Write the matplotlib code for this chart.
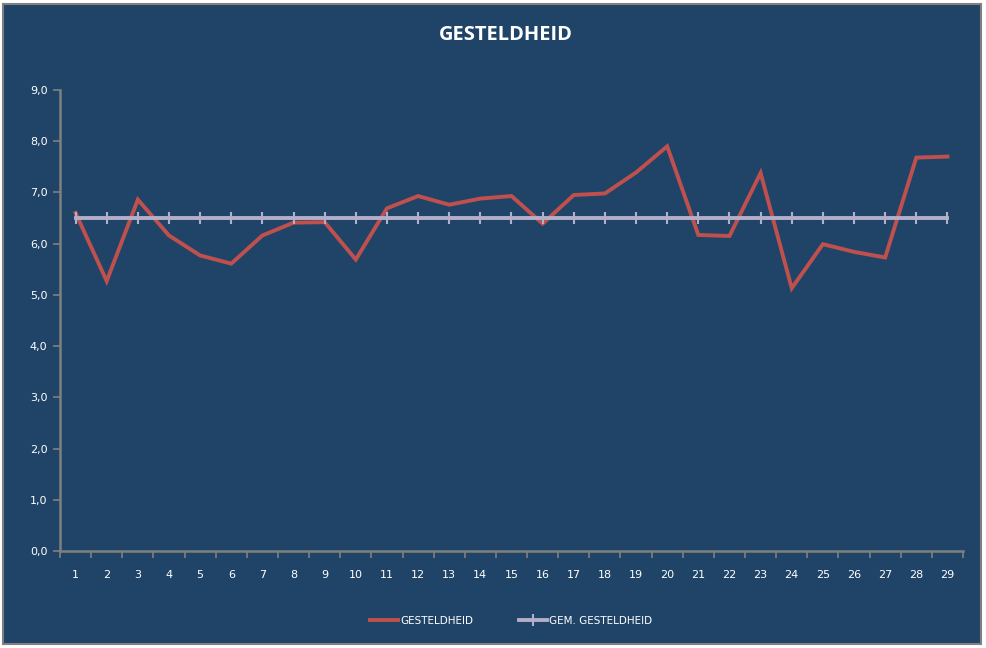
import matplotlib
matplotlib.use("Agg")
import matplotlib.pyplot as plt
from matplotlib.patches import Rectangle
from matplotlib.ticker import FixedLocator, FuncFormatter

categories = [str(i) for i in range(1, 30)]
gesteldheid = [6.60, 5.27, 6.86, 6.16, 5.77, 5.61, 6.16, 6.41, 6.42, 5.69,
               6.69, 6.93, 6.76, 6.88, 6.93, 6.39, 6.95, 6.98, 7.39, 7.90,
               6.17, 6.15, 7.38, 5.13, 5.99, 5.84, 5.73, 7.68, 7.70]
gem_gesteldheid = [6.50] * 29
y_ticks = [0, 1, 2, 3, 4, 5, 6, 7, 8, 9]

BG = "#1F4468"
RED = "#C0504D"
LAV = "#B3AEC9"
AXIS = "#808080"

W, H = 987, 648
fig = plt.figure(figsize=(W / 100, H / 100), dpi=100)
fig.patch.set_facecolor("white")
fig.patches.append(Rectangle((3 / W, 4 / H), (981 - 3) / W, (644 - 4) / H,
                             transform=fig.transFigure, facecolor=BG,
                             edgecolor=AXIS, linewidth=1.5, zorder=-10))

left, right, top, bottom = 60, 963, 90, 551
ax = fig.add_axes([left / W, 1 - bottom / H, (right - left) / W, (bottom - top) / H])
ax.set_facecolor("none")
ax.patch.set_visible(False)
x = list(range(len(categories)))

ax.plot(x, gesteldheid, color=RED, lw=2.8, solid_joinstyle="miter", zorder=2,
        label="GESTELDHEID")
ax.plot(x, gem_gesteldheid, color=LAV, lw=2.8, marker="|", markersize=8,
        markeredgewidth=1.5, zorder=3, label="GEM. GESTELDHEID")

ax.set_xlim(-0.5, len(categories) - 0.5)
ax.set_ylim(0, 9)
ax.yaxis.set_major_locator(FixedLocator(y_ticks))
ax.yaxis.set_major_formatter(FuncFormatter(lambda v, p: f"{v:.1f}".replace(".", ",")))
ax.set_xticks([i - 0.5 for i in range(len(categories) + 1)])
ax.set_xticklabels([])
ax.set_xticks(x, minor=True)
ax.set_xticklabels(categories, minor=True)
ax.tick_params(axis="x", which="minor", length=0, pad=14, labelsize=8, labelcolor="white")
ax.tick_params(axis="x", which="major", length=5, color=AXIS, width=1.2)
ax.tick_params(axis="y", length=5, color=AXIS, width=1.2, labelsize=8, labelcolor="white", pad=4)

for s in ["top", "right"]:
    ax.spines[s].set_visible(False)
for s in ["left", "bottom"]:
    ax.spines[s].set_color(AXIS)
    ax.spines[s].set_linewidth(1.8)

fig.text(506 / W, 1 - 35 / H, "GESTELDHEID", color="white", fontsize=14.5,
         fontweight="bold", ha="center", va="center", family="Open Sans")

leg = fig.legend(loc="center", bbox_to_anchor=(511 / W, 1 - 621 / H), ncol=2,
                 frameon=False, fontsize=7.5, labelcolor="white",
                 handlelength=2.7, handletextpad=0.15, columnspacing=4.4)

fig.savefig("out.png", dpi=100, facecolor=fig.get_facecolor())
